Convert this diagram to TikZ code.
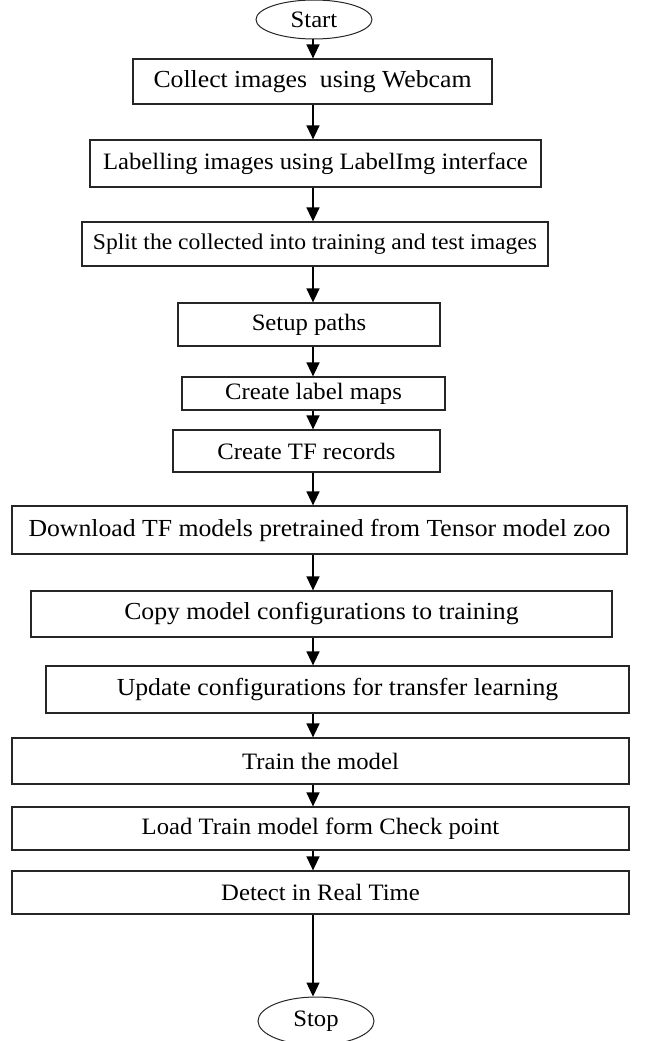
\documentclass[tikz,border=0pt]{standalone}
\usepackage{fontspec}
\setmainfont{Liberation Serif}[FakeStretch=1.05]
\usetikzlibrary{arrows.meta,shapes.geometric}
\tikzset{
  box/.style={draw=black!85, rectangle, line width=1.2pt, inner sep=0pt, align=center, font=\fontsize{23.5}{27}\selectfont},
  big/.style={font=\fontsize{24.5}{28}\selectfont},
  small/.style={font=\fontsize{22.5}{26}\selectfont},
  term/.style={draw=black!85, ellipse, line width=1pt, inner sep=0pt, font=\fontsize{23.5}{27}\selectfont},
  arr/.style={line width=1.3pt, -{Triangle[width=13pt,length=14pt]}}
}
\begin{document}
\begin{tikzpicture}[x=1pt,y=-1pt]
\useasboundingbox (0,0) rectangle (652,1041);
\fill[white] (0,0) rectangle (652,1041);
\coordinate (ax) at (313,0);
\node[term, minimum width=116pt, minimum height=39pt] (start) at (314,19.5) {Start};
\node[box, big, minimum width=359pt, minimum height=45pt] (b1) at (312.5,81.5) {Collect images\ \ using Webcam};
\node[box, minimum width=451pt, minimum height=47pt] (b2) at (315.5,163.5) {Labelling images using LabelImg interface};
\node[box, small, minimum width=466pt, minimum height=44pt] (b3) at (315,244) {Split the collected into training and test images};
\node[box, minimum width=262pt, minimum height=43pt] (b4) at (309,324.5) {Setup paths};
\node[box, minimum width=263pt, minimum height=33pt] (b5) at (313.5,393.5) {Create label maps};
\node[box, minimum width=267pt, minimum height=42pt] (b6) at (306.5,451) {Create TF records};
\node[box, big, minimum width=615pt, minimum height=48pt] (b7) at (319.5,530) {Download TF models pretrained from Tensor model zoo};
\node[box, big, minimum width=581pt, minimum height=46pt] (b8) at (321.5,614) {Copy model configurations to training};
\node[box, big, minimum width=583pt, minimum height=47pt] (b9) at (337.5,689.5) {Update configurations for transfer learning};
\node[box, minimum width=617pt, minimum height=46pt] (b10) at (320.5,761) {Train the model};
\node[box, minimum width=617pt, minimum height=43pt] (b11) at (320.5,828.5) {Load Train model form Check point};
\node[box, minimum width=617pt, minimum height=43pt] (b12) at (320.5,892.5) {Detect in Real Time};
\node[term, minimum width=116pt, minimum height=48pt] (stop) at (316,1021) {Stop};
\draw[arr] (start.south -| ax) -- (b1.north -| ax);
\draw[arr] (b1.south -| ax) -- (b2.north -| ax);
\draw[arr] (b2.south -| ax) -- (b3.north -| ax);
\draw[arr] (b3.south -| ax) -- (b4.north -| ax);
\draw[arr] (b4.south -| ax) -- (b5.north -| ax);
\draw[arr] (b5.south -| ax) -- (b6.north -| ax);
\draw[arr] (b6.south -| ax) -- (b7.north -| ax);
\draw[arr] (b7.south -| ax) -- (b8.north -| ax);
\draw[arr] (b8.south -| ax) -- (b9.north -| ax);
\draw[arr] (b9.south -| ax) -- (b10.north -| ax);
\draw[arr] (b10.south -| ax) -- (b11.north -| ax);
\draw[arr] (b11.south -| ax) -- (b12.north -| ax);
\draw[arr] (b12.south -| ax) -- (stop.north -| ax);
\end{tikzpicture}
\end{document}
